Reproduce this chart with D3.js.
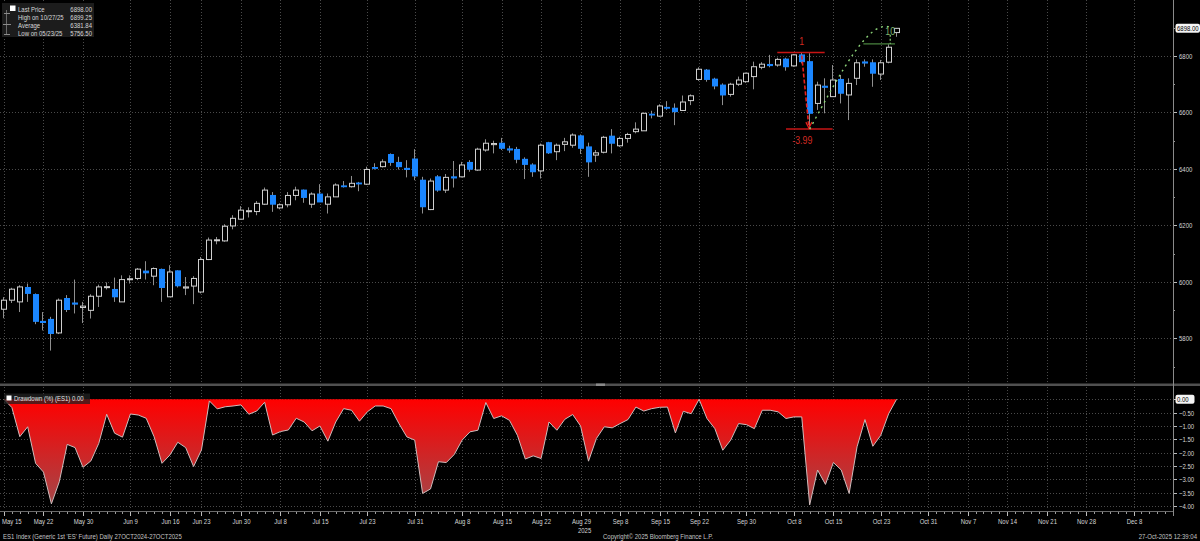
<!DOCTYPE html>
<html>
<head>
<meta charset="utf-8">
<script src="https://cdn.jsdelivr.net/npm/d3@7"></script>
<style>
  html, body { margin: 0; padding: 0; background: #000; }
  svg { display: block; }
  text { font-family: "Liberation Sans", Arial, sans-serif; }
</style>
</head>
<body>
<svg id="chart" width="1200" height="541"></svg>
<script>
// trading calendar (exchange holidays skipped, future part is plain weekdays)
var firstDay = "2025-05-15", lastDay = "2025-10-27", axisEnd = "2025-12-12";
var holidays = ["2025-05-26", "2025-06-19", "2025-07-04", "2025-09-01"];

var tickDates = ["2025-05-15", "2025-05-22", "2025-05-30", "2025-06-09", "2025-06-16", "2025-06-23",
    "2025-06-30", "2025-07-08", "2025-07-15", "2025-07-23", "2025-07-31", "2025-08-08", "2025-08-15",
    "2025-08-22", "2025-08-29", "2025-09-08", "2025-09-15", "2025-09-22", "2025-09-30", "2025-10-08",
    "2025-10-15", "2025-10-23", "2025-10-31", "2025-11-07", "2025-11-14", "2025-11-21", "2025-11-28",
    "2025-12-08"];

// daily OHLC, ES1, May 15 .. Oct 27 2025
var open = [5903, 5935, 5929, 5980, 5955, 5860, 5867, 5819, 5941, 5925,
    5909, 5899, 5949, 5980, 5973, 5929, 6008, 6012, 6038, 6020,
    6044, 5947, 6039, 5978, 5985, 5964, 6079, 6146, 6145, 6198,
    6222, 6249, 6249, 6275, 6306, 6262, 6273, 6306, 6325, 6275,
    6311, 6275, 6301, 6340, 6337, 6350, 6346, 6405, 6408, 6451,
    6423, 6402, 6435, 6360, 6256, 6372, 6325, 6372, 6372, 6423,
    6396, 6467, 6486, 6491, 6471, 6469, 6434, 6414, 6393, 6493,
    6461, 6487, 6484, 6517, 6478, 6449, 6459, 6516, 6482, 6508,
    6532, 6535, 6594, 6587, 6618, 6615, 6607, 6642, 6717, 6750,
    6718, 6697, 6664, 6700, 6709, 6727, 6760, 6770, 6768, 6789,
    6765, 6804, 6780, 6632, 6693, 6656, 6717, 6662, 6721, 6779,
    6776, 6736, 6778, 6883];
var high = [5946, 5979, 5988, 5994, 5959, 5893, 5876, 5941, 5953, 6008,
    5929, 5956, 5990, 5998, 6015, 6023, 6023, 6049, 6073, 6051,
    6047, 6059, 6041, 6017, 6020, 6088, 6157, 6159, 6204, 6236,
    6268, 6264, 6286, 6334, 6318, 6278, 6318, 6337, 6327, 6317,
    6346, 6313, 6349, 6357, 6375, 6354, 6408, 6420, 6434, 6455,
    6443, 6431, 6470, 6372, 6366, 6378, 6382, 6428, 6425, 6431,
    6475, 6505, 6500, 6510, 6482, 6478, 6441, 6420, 6490, 6496,
    6490, 6510, 6526, 6522, 6493, 6467, 6517, 6541, 6514, 6528,
    6565, 6600, 6606, 6629, 6640, 6632, 6660, 6664, 6760, 6754,
    6723, 6703, 6705, 6727, 6741, 6780, 6778, 6804, 6794, 6794,
    6807, 6812, 6810, 6709, 6721, 6768, 6733, 6721, 6788, 6788,
    6788, 6786, 6845, 6899.25];
var low = [5871, 5925, 5893, 5929, 5850, 5828, 5756.5, 5815, 5893, 5888,
    5854, 5870, 5911, 5973, 5929, 5929, 5994, 6006, 6008, 5988,
    5929, 5947, 5980, 5953, 5921, 5959, 6077, 6133, 6142, 6186,
    6221, 6228, 6236, 6272, 6248, 6257, 6264, 6289, 6280, 6262,
    6283, 6242, 6301, 6334, 6334, 6321, 6343, 6398, 6405, 6411,
    6398, 6370, 6360, 6242, 6254, 6319, 6315, 6334, 6370, 6390,
    6393, 6461, 6455, 6467, 6457, 6420, 6364, 6372, 6366, 6453,
    6431, 6463, 6475, 6453, 6372, 6425, 6455, 6455, 6478, 6493,
    6526, 6535, 6579, 6585, 6609, 6555, 6606, 6626, 6712, 6709,
    6682, 6626, 6656, 6694, 6705, 6682, 6753, 6760, 6762, 6748,
    6762, 6774, 6541, 6609, 6597, 6656, 6632, 6573, 6697, 6762,
    6691, 6715, 6774, 6868];
var close = [5935, 5974, 5982, 5959, 5860, 5856, 5817, 5935, 5902, 5921,
    5914, 5949, 5982, 5983, 5947, 6008, 6011, 6045, 6032, 6047,
    5980, 6035, 5986, 5982, 6012, 6079, 6148, 6149, 6197, 6225,
    6254, 6252, 6278, 6325, 6275, 6273, 6306, 6325, 6299, 6311,
    6283, 6301, 6343, 6337, 6349, 6347, 6398, 6402, 6425, 6423,
    6408, 6398, 6375, 6266, 6357, 6325, 6370, 6368, 6414, 6399,
    6470, 6491, 6490, 6473, 6467, 6434, 6416, 6390, 6484, 6457,
    6484, 6496, 6520, 6473, 6425, 6457, 6512, 6491, 6508, 6522,
    6541, 6597, 6591, 6623, 6615, 6603, 6637, 6659, 6753, 6717,
    6694, 6662, 6700, 6715, 6739, 6762, 6771, 6766, 6788, 6762,
    6804, 6780, 6597, 6697, 6689, 6715, 6668, 6703, 6776, 6775,
    6739, 6776, 6831, 6898];

// drawdown (%) study, same days
var drawdown = [0, -0.31, -1.40, -1.03, -2.40, -2.73, -3.92, -3.09, -1.69, -1.81,
    -2.55, -2.31, -1.65, -0.56, -1.27, -1.42, -0.55, -0.59, -0.71, -1.40,
    -2.40, -2.09, -1.61, -1.81, -2.52, -1.90, -0.06, -0.36, -0.28, -0.25,
    -0.21, -0.56, -0.44, -0.11, -1.34, -1.21, -1.15, -0.71, -0.85, -1.18,
    -1.00, -1.57, -0.85, -0.35, -0.41, -0.82, -0.47, -0.25, -0.25, -0.35,
    -0.91, -1.41, -1.53, -3.53, -3.36, -2.34, -2.37, -2.07, -1.53, -1.22,
    -1.16, -0.12, -0.72, -0.62, -0.79, -1.35, -2.24, -2.12, -2.22, -0.85,
    -1.16, -0.75, -0.57, -1.00, -2.32, -1.47, -1.03, -1.07, -0.91, -0.76,
    -0.29, -0.44, -0.35, -0.30, -0.29, -1.26, -0.45, -0.54, 0, -0.72,
    -1.10, -1.91, -1.53, -0.91, -0.95, -1.10, -0.41, -0.41, -0.47, -0.72,
    -0.66, -0.66, -3.96, -2.65, -3.19, -2.37, -2.65, -3.53, -1.78, -0.76,
    -1.76, -1.35, -0.54, 0];

var priceTicks = [5800, 6000, 6200, 6400, 6600, 6800];
var priceMinor = [5700, 5900, 6100, 6300, 6500, 6700, 6900];
var ddTicks = [0, -0.5, -1, -1.5, -2, -2.5, -3, -3.5, -4];

var legendLabels = ["Last Price", "High on 10/27/25", "Average", "Low on 05/23/25"];
var legendValues = ["6898.00", "6899.25", "6381.84", "5756.50"];
var lastPrice = 6898.00;

// annotations: drop from the Oct 9 high to the Oct 10 low, then rebound to new high
var dropNote = { fromIdx: 101, toIdx: 102, top: 6812, bottom: 6541, topLabel: "1", label: "-3.99" };
var riseNote = { label: "10", level: 6843, curve: [[102, 6541], [106, 6745], [109.6, 6940], [112.4, 6900]] };

document.addEventListener("DOMContentLoaded", function(event) {

    var svg = d3.select("#chart");
    var plotRight = 1173;
    var mainBottom = 383, ddTop = 387, ddBottom = 510;

    var parse = d3.timeParse("%Y-%m-%d"), key = d3.timeFormat("%Y-%m-%d");
    var label = d3.timeFormat("%b %-d");
    var last = parse(lastDay);
    var calendar = d3.timeDay.range(parse(firstDay), d3.timeDay.offset(parse(axisEnd), 1))
        .filter(function(d) {
            var w = d.getDay();
            return w > 0 && w < 6 && (d > last || holidays.indexOf(key(d)) < 0);
        });
    var pos = new Map(calendar.map(function(d, i) { return [key(d), i]; }));

    var x = d3.scaleLinear().domain([0, 148]).range([4, plotRight]);
    var y = d3.scaleLinear().domain([5800, 6800]).range([338.3, 56]);
    var yd = d3.scaleLinear().domain([-4, 0]).range([506, 399.3]);

    var data = open.map(function(o, i) {
        return { i: i, o: o, h: high[i], l: low[i], c: close[i], dd: drawdown[i] };
    });

    // narrow terminal-style lettering: squeeze each text horizontally around its anchor
    function squeeze(sel, k) {
        sel.each(function() {
            var t = d3.select(this);
            var tx = +t.attr("x") || 0, ty = +t.attr("y") || 0;
            t.attr("x", 0).attr("y", 0)
                .attr("transform", "translate(" + tx + "," + ty + ") scale(" + k + ",1)");
        });
    }

    // grid
    var grid = svg.append("g").attr("stroke", "#4a4a4a").attr("stroke-dasharray", "1,2");
    priceTicks.forEach(function(p) {
        var yy = Math.round(y(p)) + 0.5;
        grid.append("line").attr("x1", 0).attr("x2", plotRight).attr("y1", yy).attr("y2", yy);
    });
    ddTicks.forEach(function(v) {
        var yy = Math.round(yd(v)) + 0.5;
        grid.append("line").attr("x1", 0).attr("x2", plotRight).attr("y1", yy).attr("y2", yy);
    });
    tickDates.forEach(function(t) {
        var xx = Math.round(x(pos.get(t))) + 0.5;
        grid.append("line").attr("x1", xx).attr("x2", xx).attr("y1", 0).attr("y2", mainBottom);
        grid.append("line").attr("x1", xx).attr("x2", xx).attr("y1", ddTop).attr("y2", ddBottom);
    });

    // candles
    var candles = svg.append("g");
    data.forEach(function(d) {
        var cx = Math.round(x(d.i));
        var up = d.c >= d.o;
        candles.append("line")
            .attr("x1", cx - 0.5).attr("x2", cx - 0.5)
            .attr("y1", y(d.h)).attr("y2", y(d.l))
            .attr("stroke", "#8f8f8f").attr("stroke-width", 1);
        var top = y(Math.max(d.o, d.c)), bot = y(Math.min(d.o, d.c));
        if (up) {
            candles.append("rect")
                .attr("x", cx - 2.5).attr("width", 5)
                .attr("y", top).attr("height", Math.max(1, bot - top))
                .attr("fill", "#000").attr("stroke", "#cfcfcf").attr("stroke-width", 1);
        } else {
            candles.append("rect")
                .attr("x", cx - 3).attr("width", 6)
                .attr("y", top - 0.5).attr("height", Math.max(1.5, bot - top + 1))
                .attr("fill", "#1a86ff");
        }
    });

    // drop annotation
    var red = "#c81414";
    var an = svg.append("g");
    an.append("line").attr("x1", x(dropNote.fromIdx - 3.1)).attr("x2", x(dropNote.fromIdx + 2.9))
        .attr("y1", y(dropNote.top)).attr("y2", y(dropNote.top))
        .attr("stroke", red).attr("stroke-width", 1.5);
    an.append("line").attr("x1", x(dropNote.toIdx - 3)).attr("x2", x(dropNote.toIdx + 2.9))
        .attr("y1", y(dropNote.bottom)).attr("y2", y(dropNote.bottom))
        .attr("stroke", red).attr("stroke-width", 1.5);
    an.append("line").attr("x1", x(dropNote.fromIdx)).attr("x2", x(dropNote.toIdx - 0.1))
        .attr("y1", y(dropNote.top) + 3).attr("y2", y(dropNote.bottom) - 2)
        .attr("stroke", "#e8201c").attr("stroke-width", 1.6).attr("stroke-dasharray", "4,2");
    var ax = x(dropNote.toIdx - 0.1), ay = y(dropNote.bottom) - 1;
    an.append("path").attr("d", "M" + (ax - 3) + "," + (ay - 6) + "L" + ax + "," + ay + "L" + (ax + 3) + "," + (ay - 6))
        .attr("fill", "none").attr("stroke", "#e8201c").attr("stroke-width", 1.2);
    an.append("text").attr("x", x(dropNote.fromIdx)).attr("y", y(dropNote.top) - 8)
        .attr("text-anchor", "middle").attr("fill", "#d42a22").style("font-size", "10px")
        .text(dropNote.topLabel);
    an.append("text").attr("x", x(dropNote.fromIdx) + 0.5).attr("y", y(dropNote.bottom) + 15)
        .attr("text-anchor", "middle").attr("fill", "#d42a22").style("font-size", "10px")
        .text(dropNote.label);

    // rebound annotation
    var cv = riseNote.curve.map(function(p) { return [x(p[0]), y(p[1])]; });
    var cp = d3.path();
    cp.moveTo(cv[0][0], cv[0][1]);
    cp.bezierCurveTo(cv[1][0], cv[1][1], cv[2][0], cv[2][1], cv[3][0], cv[3][1]);
    an.append("path").attr("d", cp.toString()).attr("fill", "none")
        .attr("stroke", "#8ed67a").attr("stroke-width", 1.4).attr("stroke-dasharray", "2,4");
    an.append("line").attr("x1", x(108.8)).attr("x2", x(112.8))
        .attr("y1", y(riseNote.level)).attr("y2", y(riseNote.level))
        .attr("stroke", "#3e6e35").attr("stroke-width", 1.5);
    an.append("line").attr("x1", x(112.2)).attr("x2", x(112.2))
        .attr("y1", y(riseNote.level) - 9).attr("y2", y(riseNote.level))
        .attr("stroke", "#8ed67a").attr("stroke-width", 1.2).attr("stroke-dasharray", "2,2");
    an.append("text").attr("x", x(112.2)).attr("y", y(riseNote.level) - 9)
        .attr("text-anchor", "middle").attr("fill", "#7fb56e").style("font-size", "10px")
        .text(riseNote.label);
    squeeze(an.selectAll("text"), 0.88);

    // drawdown panel
    var defs = svg.append("defs");
    var grad = defs.append("linearGradient").attr("id", "ddfill")
        .attr("gradientUnits", "userSpaceOnUse")
        .attr("x1", 0).attr("x2", 0).attr("y1", yd(0)).attr("y2", yd(-4));
    grad.append("stop").attr("offset", "0%").attr("stop-color", "#ff0000");
    grad.append("stop").attr("offset", "100%").attr("stop-color", "#a2484a");

    var area = d3.area()
        .x(function(d) { return x(d.i); })
        .y0(yd(0))
        .y1(function(d) { return yd(d.dd); });
    var line = d3.line()
        .x(function(d) { return x(d.i); })
        .y(function(d) { return yd(d.dd); });
    svg.append("path").datum(data).attr("d", area).attr("fill", "url(#ddfill)");
    svg.append("path").datum(data).attr("d", line).attr("fill", "none")
        .attr("stroke", "#cdbcbc").attr("stroke-width", 1);

    // panel separator
    svg.append("rect").attr("x", 0).attr("y", 383.5).attr("width", 1200).attr("height", 2.5).attr("fill", "#505050");
    svg.append("rect").attr("x", 596).attr("y", 383.5).attr("width", 9).attr("height", 2.5).attr("fill", "#8a8a8a");

    var labels = svg.append("g").attr("class", "labels");

    // right axis
    var axisCol = "#8a8a8a", txtCol = "#d6d6d6";
    svg.append("line").attr("x1", plotRight + 0.5).attr("x2", plotRight + 0.5)
        .attr("y1", 0).attr("y2", 516).attr("stroke", axisCol);
    var ra = labels.append("g").style("font-size", "7.5px").attr("fill", txtCol);
    priceTicks.forEach(function(p) {
        var yy = Math.round(y(p)) + 0.5;
        ra.append("line").attr("x1", plotRight).attr("x2", plotRight + 4).attr("y1", yy).attr("y2", yy).attr("stroke", "#bbb");
        ra.append("text").attr("x", plotRight + 6).attr("y", yy).attr("dy", "0.35em").text(d3.format("d")(p));
    });
    priceMinor.forEach(function(p) {
        var yy = Math.round(y(p)) + 0.5;
        if (yy < 0 || yy > mainBottom) return;
        ra.append("line").attr("x1", plotRight).attr("x2", plotRight + 2).attr("y1", yy).attr("y2", yy).attr("stroke", "#999");
    });
    ddTicks.forEach(function(v) {
        var yy = Math.round(yd(v)) + 0.5;
        ra.append("line").attr("x1", plotRight).attr("x2", plotRight + 4).attr("y1", yy).attr("y2", yy).attr("stroke", "#bbb");
        if (v === 0) return;
        ra.append("text").attr("x", plotRight + 6).attr("y", yy).attr("dy", "0.35em").text(d3.format(".2f")(v));
    });

    // value tags
    function tag(yy, txt, w) {
        labels.append("rect").attr("x", plotRight + 2.5).attr("y", yy - 4.5).attr("width", w).attr("height", 9)
            .attr("rx", 2).attr("fill", "#f4f4f4");
        labels.append("text").attr("x", plotRight + 4).attr("y", yy).attr("dy", "0.35em")
            .attr("fill", "#000").style("font-size", "7.5px").text(txt);
    }
    tag(y(lastPrice), d3.format(".2f")(lastPrice), 24.5);
    tag(yd(drawdown[drawdown.length - 1]), d3.format(".2f")(-drawdown[drawdown.length - 1]), 19);

    // time axis
    var ta = labels.append("g");
    ta.append("line").attr("x1", 0).attr("x2", plotRight).attr("y1", 511.5).attr("y2", 511.5).attr("stroke", "#6a6a6a");
    calendar.forEach(function(d, i) {
        var xx = Math.round(x(i)) + 0.5;
        if (xx > plotRight) return;
        ta.append("line").attr("x1", xx).attr("x2", xx).attr("y1", 512).attr("y2", 514).attr("stroke", "#9a9a9a");
    });
    tickDates.forEach(function(t, k) {
        var xx = Math.round(x(pos.get(t))) + 0.5;
        ta.append("line").attr("x1", xx).attr("x2", xx).attr("y1", 512).attr("y2", 516).attr("stroke", "#bbbbbb");
        ta.append("text")
            .attr("x", k === 0 ? 2 : xx).attr("y", 524)
            .attr("text-anchor", k === 0 ? "start" : "middle")
            .attr("fill", txtCol).style("font-size", "7.5px")
            .text(label(parse(t)));
    });
    ta.append("text").attr("x", x(pos.get("2025-08-29")) + 4).attr("y", 532.5)
        .attr("text-anchor", "middle").attr("fill", txtCol).style("font-size", "7.5px").text("2025");

    // footer
    var ft = labels.append("g").attr("fill", "#c4c4c4").style("font-size", "7.5px");
    ft.append("text").attr("x", 3).attr("y", 538.5).text("ES1 Index (Generic 1st 'ES' Future) Daily 27OCT2024-27OCT2025");
    ft.append("text").attr("x", 603).attr("y", 538.5).text("Copyright\u00a9 2025 Bloomberg Finance L.P.");
    ft.append("text").attr("x", 1197).attr("y", 538.5).attr("text-anchor", "end").text("27-Oct-2025 12:39:04");

    // legend, price panel
    var lg = labels.append("g").style("font-size", "7.5px");
    lg.append("rect").attr("x", 2).attr("y", 3).attr("width", 92).attr("height", 34).attr("fill", "#1c1c1c");
    lg.append("rect").attr("x", 10).attr("y", 5.5).attr("width", 5.5).attr("height", 5.5).attr("fill", "#fff");
    lg.append("line").attr("x1", 6.5).attr("x2", 6.5).attr("y1", 10).attr("y2", 34).attr("stroke", "#6a6a6a");
    lg.append("line").attr("x1", 4).attr("x2", 10).attr("y1", 13.5).attr("y2", 13.5).attr("stroke", "#8a8a8a");
    lg.append("line").attr("x1", 3).attr("x2", 11).attr("y1", 24.5).attr("y2", 24.5).attr("stroke", "#8a8a8a");
    lg.append("line").attr("x1", 4).attr("x2", 10).attr("y1", 34.5).attr("y2", 34.5).attr("stroke", "#8a8a8a");
    legendLabels.forEach(function(t, k) {
        var yy = 9 + k * 8;
        lg.append("text").attr("x", 18).attr("y", yy).attr("dy", "0.35em").attr("fill", "#d8d8d8").text(t);
        lg.append("text").attr("x", 92).attr("y", yy).attr("dy", "0.35em").attr("text-anchor", "end")
            .attr("fill", "#d8d8d8").text(legendValues[k]);
    });

    // legend, drawdown panel
    var lg2 = labels.append("g").style("font-size", "7.5px");
    lg2.append("rect").attr("x", 4).attr("y", 393.5).attr("width", 86).attr("height", 10.5).attr("fill", "#222").attr("opacity", 0.75);
    lg2.append("rect").attr("x", 6.5).attr("y", 395.5).attr("width", 5).attr("height", 5).attr("fill", "#fff");
    lg2.append("text").attr("x", 14).attr("y", 398.5).attr("dy", "0.35em").attr("fill", "#e6e6e6")
        .text("Drawdown (%) (ES1) " + d3.format(".2f")(-drawdown[drawdown.length - 1]));

    squeeze(labels.selectAll("text"), 0.8);
});
</script>
</body>
</html>
